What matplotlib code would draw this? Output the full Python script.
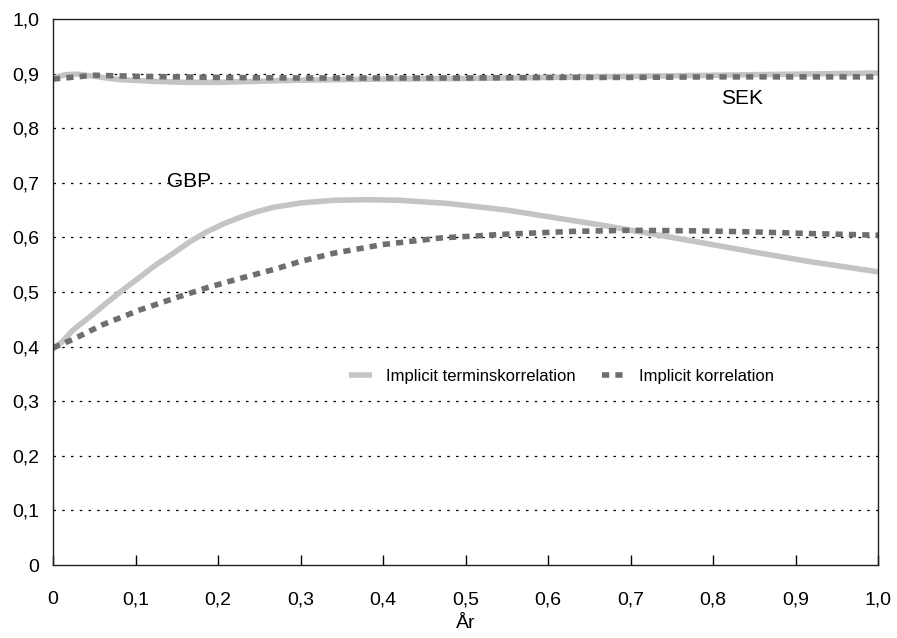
import matplotlib.pyplot as plt

# Data (x = år)
gbp_term_x = [0.0, 0.012, 0.024, 0.045, 0.065, 0.085, 0.105, 0.125, 0.146, 0.166, 0.186, 0.207,
              0.227, 0.247, 0.267, 0.30, 0.34, 0.38, 0.42, 0.48, 0.55, 0.60, 0.663, 0.72,
              0.78, 0.85, 0.92, 1.0]
gbp_term_y = [0.395, 0.41, 0.43, 0.455, 0.48, 0.504, 0.527, 0.55, 0.571, 0.592, 0.61, 0.625,
              0.637, 0.647, 0.655, 0.663, 0.668, 0.669, 0.668, 0.662, 0.65, 0.638, 0.623, 0.608,
              0.592, 0.573, 0.555, 0.537]

gbp_korr_x = [0.0, 0.024, 0.06, 0.105, 0.15, 0.187, 0.227, 0.267, 0.30, 0.34, 0.40, 0.47,
              0.55, 0.63, 0.70, 0.78, 0.85, 0.92, 1.0]
gbp_korr_y = [0.398, 0.413, 0.44, 0.467, 0.49, 0.508, 0.525, 0.541, 0.556, 0.571, 0.587, 0.599,
              0.606, 0.611, 0.613, 0.612, 0.610, 0.607, 0.604]

sek_term_x = [0.0, 0.015, 0.03, 0.05, 0.08, 0.12, 0.16, 0.20, 0.25, 0.30, 0.40, 0.50, 0.60,
              0.70, 0.80, 0.90, 1.0]
sek_term_y = [0.892, 0.898, 0.899, 0.895, 0.889, 0.886, 0.884, 0.884, 0.886, 0.888, 0.890, 0.891,
              0.893, 0.895, 0.897, 0.899, 0.901]

sek_korr_x = [0.0, 0.05, 0.10, 0.20, 0.30, 0.40, 0.50, 0.60, 0.70, 0.80, 0.90, 1.0]
sek_korr_y = [0.890, 0.897, 0.895, 0.893, 0.892, 0.892, 0.892, 0.893, 0.893, 0.894, 0.894, 0.894]

ticks = [0.0, 0.1, 0.2, 0.3, 0.4, 0.5, 0.6, 0.7, 0.8, 0.9, 1.0]
tick_labels = ['0', '0,1', '0,2', '0,3', '0,4', '0,5', '0,6', '0,7', '0,8', '0,9', '1,0']

plt.rcParams['font.family'] = ['Liberation Sans', 'DejaVu Sans']

fig = plt.figure(figsize=(8.97, 6.38), dpi=100)
ax = fig.add_axes([53 / 897, 73 / 638, 825 / 897, 546 / 638])

term_style = dict(color='#c4c4c4', lw=4.0, solid_capstyle='butt', solid_joinstyle='round')
korr_style = dict(color='#6e6e6e', lw=4.0, linestyle=(0, (1.3, 1.1)), dash_capstyle='butt')

ax.plot(gbp_term_x, gbp_term_y, label='Implicit terminskorrelation', **term_style)
ax.plot(gbp_korr_x, gbp_korr_y, label='Implicit korrelation', **korr_style)
ax.plot(sek_term_x, sek_term_y, **term_style)
ax.plot(sek_korr_x, sek_korr_y, **korr_style)

# dotted gridlines
for yv in ticks[1:-1]:
    ax.axhline(yv, color='black', lw=0.9, linestyle=(0, (2, 5)), zorder=0)

ax.text(0.165, 0.703, 'GBP', fontsize=15, ha='center', va='center')
ax.text(0.835, 0.855, 'SEK', fontsize=15, ha='center', va='center')

ax.set_xlim(0, 1)
ax.set_ylim(0, 1)
ax.set_xticks(ticks)
ax.set_xticklabels(tick_labels)
ax.set_yticks(ticks)
ax.set_yticklabels(tick_labels)
ax.tick_params(axis='x', direction='in', length=7, width=1.0, pad=19, labelsize=14)
ax.tick_params(axis='y', length=0, pad=10, labelsize=14)
ax.set_xlabel('År', fontsize=14, labelpad=5)

for side in ['left', 'right', 'top', 'bottom']:
    ax.spines[side].set_linewidth(1.0)
    ax.spines[side].set_color('#222222')

ax.legend(loc='center', bbox_to_anchor=(0.616, 0.345), ncol=2, frameon=False, fontsize=12,
          handlelength=1.4, handletextpad=0.8, columnspacing=1.6)

fig.savefig('out.png', dpi=100)
